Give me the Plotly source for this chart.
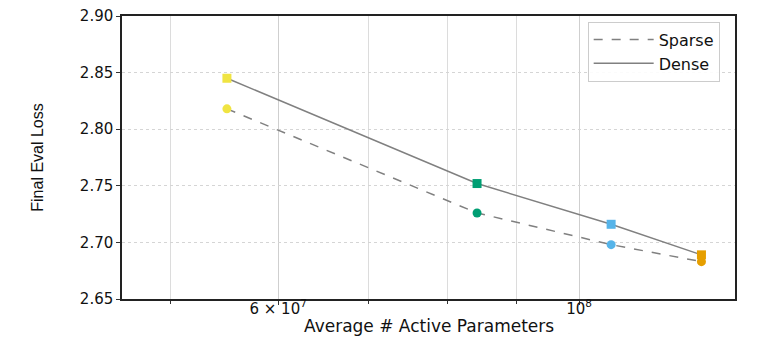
import plotly.graph_objects as go

# average active parameters per model size
params = [5.5e7, 8.41e7, 1.056e8, 1.231e8]
sparse_loss = [2.818, 2.726, 2.698, 2.683]
dense_loss = [2.845, 2.752, 2.716, 2.689]
point_colors = ["#f0e442", "#009e73", "#56b4e9", "#e69f00"]

x_ticks = [6e7, 1e8]
x_tick_text = ["6 × 10<sup>7</sup>", "10<sup>8</sup>"]
x_minor = [5e7, 7e7, 8e7, 9e7]
y_ticks = [2.65, 2.70, 2.75, 2.80, 2.85, 2.90]

LINE_GREY = "#808080"
TICK_FONT = dict(family="DejaVu Sans", size=15, color="#111111")

fig = go.Figure()

# legend / connecting lines
fig.add_trace(go.Scatter(x=params, y=sparse_loss, mode="lines", name="Sparse",
                         line=dict(color=LINE_GREY, width=1.5, dash="dash")))
fig.add_trace(go.Scatter(x=params, y=dense_loss, mode="lines", name="Dense",
                         line=dict(color=LINE_GREY, width=1.5)))

# coloured markers on top
fig.add_trace(go.Scatter(x=params, y=sparse_loss, mode="markers", showlegend=False,
                         marker=dict(symbol="circle", size=9, color=point_colors)))
fig.add_trace(go.Scatter(x=params, y=dense_loss, mode="markers", showlegend=False,
                         marker=dict(symbol="square", size=9, color=point_colors)))

# page body adds ~8px offset, margins compensate for it
fig.update_layout(
    width=761, height=343,
    margin=dict(l=114, r=34, t=8, b=52),
    paper_bgcolor="white", plot_bgcolor="white",
    legend=dict(x=0.975, y=0.98, xanchor="right", yanchor="top",
                bgcolor="rgba(255,255,255,0.9)", bordercolor="#cccccc", borderwidth=1,
                font=dict(family="DejaVu Sans", size=16, color="#111111"),
                tracegroupgap=0, itemwidth=60),
    xaxis=dict(type="log", range=[7.663, 8.115], automargin=False,
               tickvals=x_ticks, ticktext=x_tick_text, tickfont=TICK_FONT,
               ticks="outside", ticklen=4, tickcolor="#333333", ticklabelstandoff=-9,
               showgrid=True, gridcolor="#cfcfcf", gridwidth=1,
               minor=dict(tickvals=x_minor, showgrid=True, gridcolor="#dcdcdc",
                          ticks="outside", ticklen=3, tickcolor="#333333"),
               showline=True, linecolor="#222222", linewidth=1.5, mirror=True,
               zeroline=False),
    yaxis=dict(range=[2.65, 2.90], tickvals=y_ticks, tickformat=".2f", automargin=False,
               tickfont=TICK_FONT, ticks="outside", ticklen=4, tickcolor="#333333",
               ticklabeloverflow="allow",
               showgrid=True, gridcolor="#d5d5d5", gridwidth=1, griddash="dot",
               showline=True, linecolor="#222222", linewidth=1.5, mirror=True,
               zeroline=False,
               title=dict(text="Final Eval Loss", standoff=32,
                          font=dict(family="Liberation Sans Narrow, Liberation Sans", size=16,
                                    color="#111111"))),
)

# x axis title as annotation so it sits close under the tick labels
fig.add_annotation(text="Average # Active Parameters", xref="paper", yref="paper",
                   x=0.5, y=0, xanchor="center", yanchor="middle", yshift=-27,
                   showarrow=False, font=dict(family="DejaVu Sans", size=17, color="#111111"))

fig.write_html("out.html")
